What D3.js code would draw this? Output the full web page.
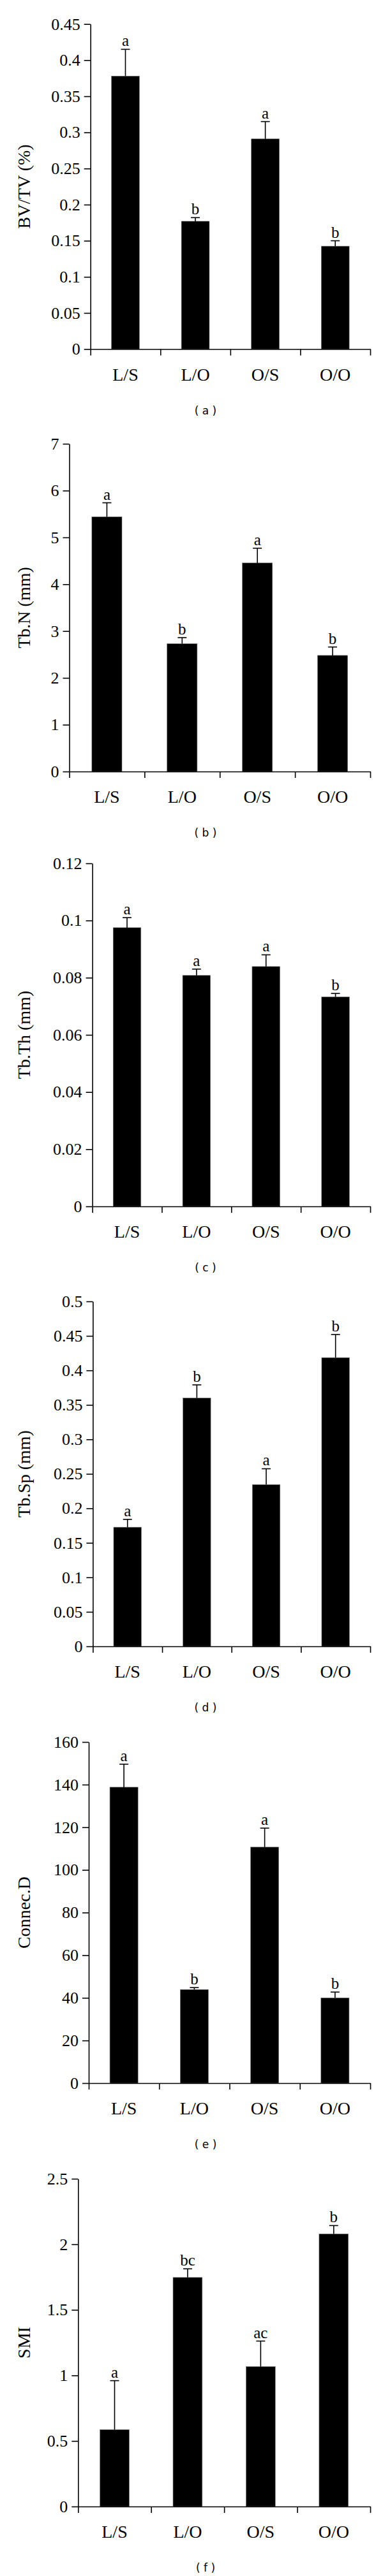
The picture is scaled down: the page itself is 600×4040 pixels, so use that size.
<!DOCTYPE html>
<html>
<head>
<meta charset="utf-8">
<script src="https://cdn.jsdelivr.net/npm/d3@7"></script>
<style>
  body { margin: 0; background: #fff; }
  svg text { fill: #000; }
</style>
</head>
<body>
<div id="vis"></div>
<script>
// groups, same for every panel
const groups = ["L/S", "L/O", "O/S", "O/O"];

// (a) BV/TV
const bvtvMean = [0.378, 0.177, 0.291, 0.1425];
const bvtvErr = [0.037, 0.005, 0.024, 0.0075];
const bvtvSig = ["a", "b", "a", "b"];
const bvtvTicks = [0, 0.05, 0.1, 0.15, 0.2, 0.25, 0.3, 0.35, 0.4, 0.45];
const bvtvTickLabels = ["0", "0.05", "0.1", "0.15", "0.2", "0.25", "0.3", "0.35", "0.4", "0.45"];

// (b) Tb.N
const tbnMean = [5.44, 2.73, 4.455, 2.48];
const tbnErr = [0.30, 0.13, 0.315, 0.18];
const tbnSig = ["a", "b", "a", "b"];
const tbnTicks = [0, 1, 2, 3, 4, 5, 6, 7];
const tbnTickLabels = ["0", "1", "2", "3", "4", "5", "6", "7"];

// (c) Tb.Th
const tbthMean = [0.0975, 0.0808, 0.0839, 0.0733];
const tbthErr = [0.0035, 0.0022, 0.0041, 0.0012];
const tbthSig = ["a", "a", "a", "b"];
const tbthTicks = [0, 0.02, 0.04, 0.06, 0.08, 0.1, 0.12];
const tbthTickLabels = ["0", "0.02", "0.04", "0.06", "0.08", "0.1", "0.12"];

// (d) Tb.Sp
const tbspMean = [0.1727, 0.360, 0.2345, 0.4185];
const tbspErr = [0.0113, 0.019, 0.0229, 0.0335];
const tbspSig = ["a", "b", "a", "b"];
const tbspTicks = [0, 0.05, 0.1, 0.15, 0.2, 0.25, 0.3, 0.35, 0.4, 0.45, 0.5];
const tbspTickLabels = ["0", "0.05", "0.1", "0.15", "0.2", "0.25", "0.3", "0.35", "0.4", "0.45", "0.5"];

// (e) Connec.D
const connMean = [138.8, 43.9, 110.7, 40.0];
const connErr = [10.8, 0.9, 8.9, 2.7];
const connSig = ["a", "b", "a", "b"];
const connTicks = [0, 20, 40, 60, 80, 100, 120, 140, 160];
const connTickLabels = ["0", "20", "40", "60", "80", "100", "120", "140", "160"];

// (f) SMI
const smiMean = [0.586, 1.747, 1.067, 2.079];
const smiErr = [0.374, 0.066, 0.195, 0.064];
const smiSig = ["a", "bc", "ac", "b"];
const smiTicks = [0, 0.5, 1, 1.5, 2, 2.5];
const smiTickLabels = ["0", "0.5", "1", "1.5", "2", "2.5"];

const panels = [
  { label: "BV/TV (%)", cap: "( a )", mean: bvtvMean, err: bvtvErr, sig: bvtvSig, ticks: bvtvTicks, tickLabels: bvtvTickLabels },
  { label: "Tb.N (mm)", cap: "( b )", mean: tbnMean, err: tbnErr, sig: tbnSig, ticks: tbnTicks, tickLabels: tbnTickLabels },
  { label: "Tb.Th (mm)", cap: "( c )", mean: tbthMean, err: tbthErr, sig: tbthSig, ticks: tbthTicks, tickLabels: tbthTickLabels },
  { label: "Tb.Sp (mm)", cap: "( d )", mean: tbspMean, err: tbspErr, sig: tbspSig, ticks: tbspTicks, tickLabels: tbspTickLabels },
  { label: "Connec.D", cap: "( e )", mean: connMean, err: connErr, sig: connSig, ticks: connTicks, tickLabels: connTickLabels },
  { label: "SMI", cap: "( f )", mean: smiMean, err: smiErr, sig: smiSig, ticks: smiTicks, tickLabels: smiTickLabels }
];

// where each panel sits on the page (top tick, zero line, y axis x)
const layout = [
  { top: 37.7, zero: 547.5, left: 141.7 },
  { top: 696, zero: 1210, left: 108.5 },
  { top: 1354, zero: 1892, left: 144.6 },
  { top: 2041, zero: 2582, left: 145.4 },
  { top: 2732, zero: 3267, left: 139 },
  { top: 3417, zero: 3931, left: 122.3 }
];
const right = 580;
const serif = "'Liberation Serif', 'Times New Roman', serif";

const svg = d3.select("#vis")
  .append("svg")
  .attr("width", 600)
  .attr("height", 4040);

panels.forEach((p, k) => {
  const L = layout[k];
  const g = svg.append("g");

  const y = d3.scaleLinear()
    .domain([0, p.ticks[p.ticks.length - 1]])
    .range([L.zero, L.top]);

  const xb = d3.scaleBand()
    .domain(groups)
    .range([L.left, right])
    .paddingInner(0.6)
    .paddingOuter(0.3);

  const xt = d3.scaleLinear()
    .domain([0, groups.length])
    .range([L.left, right]);

  // bars
  g.selectAll("rect.bar")
    .data(p.mean)
    .enter()
    .append("rect")
    .attr("class", "bar")
    .attr("x", (d, i) => xb(groups[i]))
    .attr("y", d => y(d))
    .attr("width", xb.bandwidth())
    .attr("height", d => L.zero - y(d))
    .attr("fill", "#000")
    .attr("stroke", "#777")
    .attr("stroke-width", 0.6);

  // error bars (upper only)
  const cx = i => xb(groups[i]) + xb.bandwidth() / 2;
  g.selectAll("line.err")
    .data(p.mean)
    .enter()
    .append("line")
    .attr("x1", (d, i) => cx(i))
    .attr("x2", (d, i) => cx(i))
    .attr("y1", d => y(d))
    .attr("y2", (d, i) => y(d + p.err[i]))
    .attr("stroke", "#000")
    .attr("stroke-width", 1.6);

  g.selectAll("line.cap")
    .data(p.mean)
    .enter()
    .append("line")
    .attr("x1", (d, i) => cx(i) - 7)
    .attr("x2", (d, i) => cx(i) + 7)
    .attr("y1", (d, i) => y(d + p.err[i]))
    .attr("y2", (d, i) => y(d + p.err[i]))
    .attr("stroke", "#000")
    .attr("stroke-width", 1.6);

  // significance letters
  g.selectAll("text.sig")
    .data(p.sig)
    .enter()
    .append("text")
    .attr("x", (d, i) => cx(i))
    .attr("y", (d, i) => y(p.mean[i] + p.err[i]) - 5)
    .attr("text-anchor", "middle")
    .attr("font-family", serif)
    .attr("font-size", "25px")
    .text(d => d);

  // y axis
  const yAxis = g.append("g")
    .attr("transform", `translate(${L.left},0)`)
    .call(d3.axisLeft(y)
      .tickValues(p.ticks)
      .tickFormat((d, i) => p.tickLabels[i])
      .tickSize(10)
      .tickSizeOuter(0)
      .tickPadding(6));
  yAxis.select(".domain").attr("stroke-width", 1.6);
  yAxis.selectAll(".tick line").attr("stroke-width", 1.6);
  yAxis.selectAll(".tick text")
    .attr("font-family", serif)
    .attr("font-size", "26px")
    .attr("fill", "#000");

  // x axis: ticks sit between groups
  const xAxis = g.append("g")
    .attr("transform", `translate(0,${L.zero})`)
    .call(d3.axisBottom(xt)
      .tickValues(d3.range(groups.length + 1))
      .tickFormat("")
      .tickSize(10)
      .tickSizeOuter(0));
  xAxis.select(".domain").attr("stroke-width", 1.6);
  xAxis.selectAll(".tick line").attr("stroke-width", 1.6);

  g.selectAll("text.grp")
    .data(groups)
    .enter()
    .append("text")
    .attr("x", d => xb(d) + xb.bandwidth() / 2)
    .attr("y", L.zero + 49)
    .attr("text-anchor", "middle")
    .attr("font-family", serif)
    .attr("font-size", "28px")
    .text(d => d);

  // y label
  g.append("text")
    .attr("transform", `translate(47,${(L.top + L.zero) / 2}) rotate(-90)`)
    .attr("text-anchor", "middle")
    .attr("font-family", serif)
    .attr("font-size", "28px")
    .text(p.label);

  // caption
  g.append("text")
    .attr("x", 322)
    .attr("y", L.zero + 102)
    .attr("text-anchor", "middle")
    .attr("font-family", "'DejaVu Sans', sans-serif")
    .attr("font-size", "17px")
    .text(p.cap);
});
</script>
</body>
</html>
